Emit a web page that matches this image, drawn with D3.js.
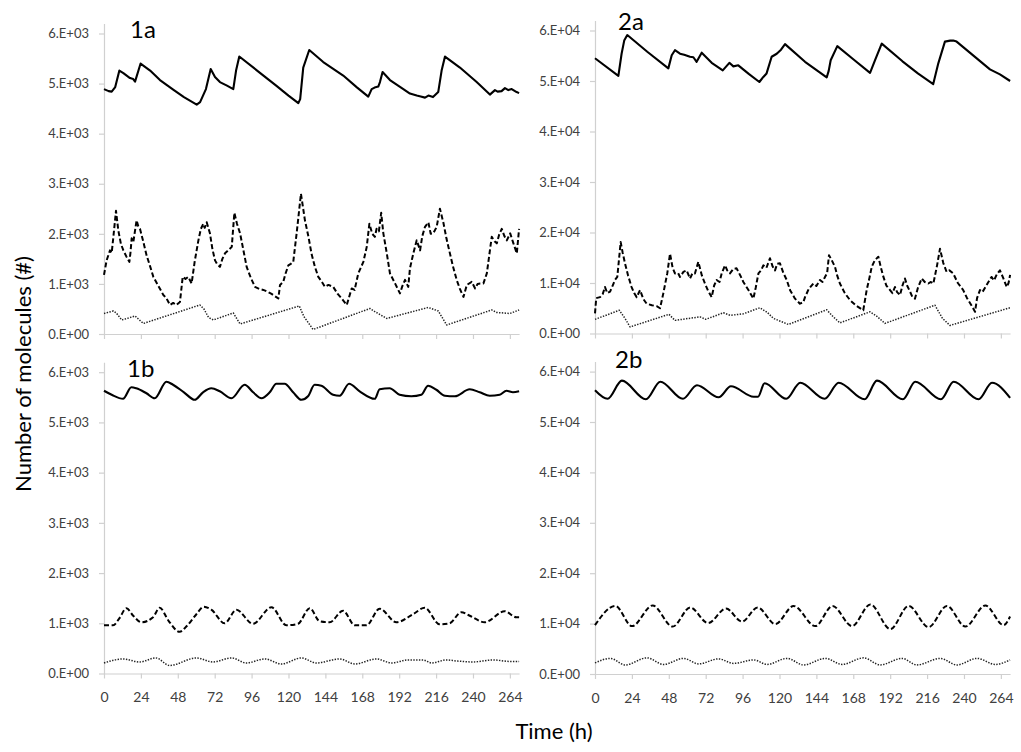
<!DOCTYPE html>
<html>
<head>
<meta charset="utf-8">
<script src="https://cdn.jsdelivr.net/npm/d3@7"></script>
<style>
  html, body { margin: 0; padding: 0; background: #fff; }
  svg { display: block; }
  text { font-family: Lato, "Open Sans", sans-serif; }
</style>
</head>
<body>
<svg id="chart" width="1021" height="752"></svg>
<script>
// ---------- DATA ----------
// Panels 1a/1b values in units of 10^3 molecules, panels 2a/2b in units of 10^4 molecules
const unit1 = 1e3, unit2 = 1e4;
const xTickValues = [0, 24, 48, 72, 96, 120, 144, 168, 192, 216, 240, 264];
const yTickValues = [0, 1, 2, 3, 4, 5, 6];
const yTickLabels1 = ["0.E+00", "1.E+03", "2.E+03", "3.E+03", "4.E+03", "5.E+03", "6.E+03"];
const yTickLabels2 = ["0.E+00", "1.E+04", "2.E+04", "3.E+04", "4.E+04", "5.E+04", "6.E+04"];
const panelNames = ["1a", "2a", "1b", "2b"];

// ---- 1a ----
const t1aSolid = [0,3,5,7.3,10,12.6,16.9,19,20.2,23.8,30,36.4,45,52,60.3,62.5,66.3,69.4,72.2,75.4,80,84.1,85.9,88,100,112,120,126.4,127.6,129.6,133.5,142.6,155.6,164.3,171.9,174.1,176,178.4,179.5,181.2,186,194.7,199,203.4,206,208.8,211,214,217.4,219.6,221.8,231.5,242.4,251,254.3,256,258.6,260.8,263,265.2,268.4,270];
const v1aSolid = [4.89,4.85,4.84,4.93,5.26,5.21,5.11,5.09,5.04,5.40,5.26,5.07,4.88,4.73,4.58,4.63,4.89,5.29,5.13,5.03,4.96,4.89,5.26,5.54,5.25,4.96,4.76,4.61,4.69,5.32,5.67,5.43,5.16,4.93,4.74,4.89,4.92,4.94,5.03,5.23,5.07,4.89,4.80,4.76,4.74,4.72,4.76,4.73,4.83,5.26,5.54,5.32,5.03,4.78,4.87,4.84,4.85,4.91,4.87,4.89,4.83,4.81];
const t1aDash = [0,1.7,3.9,5,6.1,7.8,9.3,11,12.6,14.5,16.5,17.2,18,19.1,21.2,22.3,23.4,25.5,27.7,30,32.1,35,38.6,40.5,42.9,45,47,49.4,51.2,53,54.8,57,59,61.4,63,64.6,65.5,66.8,68.9,70.5,72.2,73.5,75.4,77,78.7,80.5,83.1,84.8,86.5,88.5,90.5,92.8,95.5,98.2,101,103.6,106,109,113.4,114.5,116.6,118,119.9,121.5,123.1,125.3,128.1,130.7,133,135,137.2,139.4,141.5,143.7,146,149.1,152,154.6,157.9,161.1,163,165.4,168.7,170.9,172.6,174.5,176.2,177.3,178.8,180.3,181.7,184,186,189.3,192.5,194,195.8,197.9,199,201.2,203.4,205.6,207,208.8,211,212.5,214.2,216.4,218.5,220.7,222.8,225,227,229.4,231.5,233.8,236,239.2,241.4,243,244.7,246.8,249,252.2,254,255.5,257,258.7,260.5,262,264.2,266.3,268.5,270];
const v1aDash = [1.18,1.47,1.67,1.62,1.94,2.46,2.07,1.80,1.67,1.55,1.44,1.62,1.91,1.84,2.27,2.15,2.10,1.85,1.57,1.35,1.14,0.98,0.78,0.72,0.58,0.62,0.58,0.64,1.14,1.10,1.14,1.01,1.45,1.87,2.10,2.20,2.12,2.23,2.01,1.70,1.47,1.40,1.34,1.50,1.61,1.66,1.74,2.42,2.20,2.01,1.70,1.34,1.12,0.94,0.90,0.88,0.85,0.80,0.71,0.98,1.04,1.20,1.37,1.40,1.44,2.01,2.80,2.27,1.94,1.60,1.34,1.14,1.05,0.94,0.98,0.94,0.80,0.71,0.58,0.91,0.88,1.21,1.44,1.74,2.20,2.00,1.94,2.10,2.05,2.42,2.01,1.60,1.21,1.01,0.81,0.95,1.08,0.94,1.31,1.61,1.87,1.67,1.95,2.14,2.23,2.00,2.01,2.14,2.50,2.23,1.90,1.61,1.35,1.08,0.90,0.74,0.98,1.04,0.91,1.00,1.01,1.01,1.21,1.94,1.85,1.81,1.98,2.10,1.95,1.87,2.01,1.81,1.61,2.10];
const t1aDot = [0,6.1,8,11.5,15,20.2,25.6,62.4,65,68,71.1,84.1,88.5,127,130,136,173,176,183.9,210.9,217.4,222.9,252.2,255.5,264,270];
const v1aDot = [0.41,0.46,0.42,0.28,0.31,0.36,0.21,0.58,0.50,0.33,0.28,0.42,0.20,0.56,0.35,0.09,0.51,0.45,0.31,0.53,0.46,0.18,0.48,0.43,0.41,0.48];

// ---- 2a ----
const t2aSolid = [0,15.2,17.3,19,21,34,47.7,49.9,52,55.3,58,61.8,64,66.1,69.4,75.9,83.1,87.4,90,93.2,100,106.9,109.5,111.6,114.9,118.2,121,123.6,136.6,150.7,152,153.3,157.6,168,178.9,182.1,186.5,200,210,220,223.3,227.6,231,233,235.2,256.9,263.4,270];
const v2aSolid = [5.45,5.10,5.54,5.80,5.91,5.58,5.25,5.51,5.61,5.54,5.52,5.48,5.47,5.38,5.56,5.36,5.21,5.36,5.29,5.31,5.14,4.98,5.08,5.15,5.48,5.54,5.62,5.73,5.38,5.07,5.20,5.41,5.69,5.43,5.16,5.41,5.74,5.39,5.15,4.94,5.35,5.78,5.80,5.80,5.78,5.23,5.13,5.00];
const t2aDash = [0,0.8,3.3,5,6.5,8,9.8,11.5,13,14.5,16.7,18,19.5,21.5,23.8,25.5,27.1,29.3,31.5,33.6,37,40.1,42.3,44.4,47,48.8,50.5,52,54,55.3,57.5,59.6,61.8,63.5,65,67.2,69.5,71.5,73.5,75.9,77.5,79.1,81,82.4,84.6,86,87.8,90,92.1,94.5,96.5,100,103,104.5,106.3,108,109.5,111.5,113.8,115.5,117.1,118.5,120.3,122.5,124.7,127,130.1,133.3,135.5,136.6,139,142,144,146.3,148,149.6,151,152.2,154,156.1,157.5,159.3,162.5,165.9,170,174.5,176.7,178.5,180,182,184.3,186,187.6,189.5,191.9,193.5,195.1,196.5,198.4,200,201.6,203,204.9,206.5,208.1,210,212.5,214.5,216.8,218.5,220.1,222.5,224.4,226.5,228.7,230.5,233,236,239.5,242,245,247.2,248.5,250.4,252,254,255.5,257.9,259.5,261.5,263.4,265.5,267.8,269,270];
const v2aDash = [0.40,0.70,0.72,0.78,0.92,0.80,0.83,0.95,1.06,1.12,1.81,1.60,1.39,1.15,0.92,0.80,0.72,0.86,0.68,0.59,0.56,0.54,0.50,0.79,1.19,1.58,1.30,1.19,1.20,1.12,1.22,1.25,1.09,1.20,1.19,1.42,1.15,0.99,0.85,0.72,0.95,1.06,1.02,1.19,1.35,1.25,1.19,1.28,1.29,1.15,1.02,0.85,0.69,0.90,1.19,1.25,1.35,1.30,1.49,1.33,1.25,1.38,1.39,1.20,1.06,0.85,0.69,0.59,0.62,0.72,0.88,0.99,0.94,1.06,1.02,1.12,1.20,1.55,1.45,1.32,1.15,0.99,0.80,0.66,0.55,0.46,0.86,1.10,1.32,1.45,1.52,1.30,1.12,0.95,0.86,0.80,0.92,0.82,0.76,0.95,1.09,0.95,0.83,0.72,0.69,0.90,1.09,1.02,0.99,1.02,0.99,1.35,1.68,1.40,1.22,1.25,1.19,1.00,0.86,0.70,0.55,0.43,0.70,0.86,0.82,0.92,1.00,1.12,1.05,1.18,1.25,1.10,0.92,1.00,1.16];
const t2aDot = [0,15.8,19.5,22.8,48.1,52,68.3,72,83.5,88,96.5,107.3,112,116,125.7,150.7,155,159.3,178.9,183,188.6,221.1,226,230.9,270];
const v2aDot = [0.28,0.46,0.30,0.13,0.38,0.26,0.33,0.28,0.41,0.36,0.39,0.51,0.42,0.30,0.18,0.47,0.33,0.21,0.43,0.35,0.20,0.56,0.30,0.16,0.51];

// ---- 1b ----
const t1bSolid = [0,5,12.4,17.8,21,27.6,33,40.6,44.9,52,59,64.4,69.8,75.3,82.9,91.5,97,102.4,107.8,112.1,117.5,123,128.4,132.7,137,141.4,149,153.3,159.4,166.3,176.1,179.3,185.8,192.3,199.9,206.4,210.8,216.2,221.7,228.2,237.9,244.4,250.9,257.4,261.8,266,270];
const v1bSolid = [5.63,5.55,5.47,5.70,5.68,5.58,5.48,5.81,5.75,5.60,5.45,5.60,5.68,5.62,5.48,5.75,5.60,5.48,5.60,5.77,5.77,5.60,5.45,5.52,5.75,5.73,5.55,5.53,5.77,5.62,5.47,5.66,5.68,5.55,5.52,5.55,5.73,5.65,5.53,5.52,5.66,5.60,5.53,5.55,5.63,5.60,5.62];
const t1bDash = [0,5.9,10,14.6,19,24.3,31.9,36.2,42,49.2,54,60.1,64.8,69.8,78.5,86.1,96.9,108.9,118.6,126.2,133.8,140.3,146.8,155.5,163.1,170.7,179.3,190.2,201,208.6,218.3,224.8,232.4,237.9,247.6,260.6,268.2,270];
const v1bDash = [0.96,0.96,1.10,1.30,1.15,1.02,1.12,1.31,1.05,0.83,0.95,1.18,1.33,1.27,1.00,1.27,0.99,1.32,0.96,0.99,1.30,1.04,1.02,1.25,0.96,0.96,1.29,1.02,1.18,1.31,0.98,1.00,1.22,1.15,1.02,1.24,1.12,1.12];
const t1bDot = [0,12.4,23.2,33.7,42.7,60.1,70.9,82.9,92.6,104.6,115.4,128.4,138.1,153.3,163.1,177.2,187,197.8,207.5,213,222.7,229.2,240,253.1,263.9,270];
const v1bDot = [0.21,0.29,0.23,0.31,0.16,0.31,0.23,0.31,0.21,0.29,0.19,0.31,0.21,0.29,0.19,0.29,0.21,0.27,0.27,0.21,0.27,0.25,0.23,0.27,0.24,0.24];

// ---- 2b ----
const t2bSolid = [0,8.2,17.5,33.1,42.5,57.2,66.3,80.4,88.4,103.2,106,110.3,124.4,133.5,149.4,158.5,175.4,183.4,200.3,208.3,225.0,233.3,249.5,258.2,270];
const v2bSolid = [5.63,5.46,5.82,5.45,5.80,5.46,5.73,5.49,5.71,5.50,5.50,5.77,5.46,5.78,5.46,5.78,5.45,5.82,5.45,5.80,5.45,5.80,5.45,5.78,5.48];
const t2bDash = [0,13.2,24.1,37.5,50.5,62.0,73.5,85.2,95.6,105.8,117.3,129.2,143.3,154.5,167.2,179.1,192.1,204,217,228.9,240.9,253.9,265.8,270];
const v2bDash = [0.97,1.35,0.95,1.36,0.94,1.32,1.01,1.30,1.04,1.32,0.99,1.35,0.95,1.35,0.95,1.38,0.89,1.35,0.93,1.35,0.94,1.36,0.97,1.14];
const t2bDot = [0,10.0,19.7,33.8,44.6,57.6,67.4,80.4,90.1,103.2,111.9,124.9,135.7,149.8,160.7,174.7,185.6,199.7,209.4,224.6,235.4,248.5,260.4,270];
const v2bDot = [0.22,0.31,0.18,0.32,0.19,0.31,0.20,0.30,0.21,0.28,0.19,0.31,0.18,0.31,0.19,0.32,0.18,0.31,0.18,0.31,0.18,0.31,0.19,0.28];

// ---------- LAYOUT ----------
const svg = d3.select("#chart");
const xMax = 270, yMaxUnits = 6.2;

const panels = [
  { name: panelNames[0], unit: unit1, labels: yTickLabels1, x0: 104, x1: 519.1, yBottom: 334, yTop6: 33.5, showX: false, smooth: false,
    lbl: [130, 38],
    series: [[t1aSolid, v1aSolid], [t1aDash, v1aDash], [t1aDot, v1aDot]] },
  { name: panelNames[1], unit: unit2, labels: yTickLabels2, x0: 595, x1: 1010.1, yBottom: 333.5, yTop6: 30.5, showX: false, smooth: false,
    lbl: [618, 30],
    series: [[t2aSolid, v2aSolid], [t2aDash, v2aDash], [t2aDot, v2aDot]] },
  { name: panelNames[2], unit: unit1, labels: yTickLabels1, x0: 104, x1: 519.1, yBottom: 673.5, yTop6: 372.2, showX: true, smooth: true,
    lbl: [127, 377],
    series: [[t1bSolid, v1bSolid], [t1bDash, v1bDash], [t1bDot, v1bDot]] },
  { name: panelNames[3], unit: unit2, labels: yTickLabels2, x0: 595, x1: 1010.1, yBottom: 674, yTop6: 371.6, showX: true, smooth: true,
    lbl: [615, 368],
    series: [[t2bSolid, v2bSolid], [t2bDash, v2bDash], [t2bDot, v2bDot]] }
];

const styles = [
  { width: 2.1, dash: null, color: "#000" },
  { width: 2.0, dash: "5,2.6", color: "#000" },
  { width: 1.5, dash: "1.4,1.4", color: "#222" }
];

const axisColor = "#d0d0d0";
const textColor = "#404040";

panels.forEach(p => {
  const x = d3.scaleLinear().domain([0, xMax]).range([p.x0, p.x1]);
  const pxPerUnit = (p.yBottom - p.yTop6) / 6;
  const y = d3.scaleLinear().domain([0, yMaxUnits * p.unit])
    .range([p.yBottom, p.yBottom - yMaxUnits * pxPerUnit]);

  const g = svg.append("g");

  // y axis
  const yAxis = d3.axisLeft(y)
    .tickValues(yTickValues.map(v => v * p.unit))
    .tickFormat((d, i) => p.labels[i])
    .tickSize(5).tickSizeOuter(0).tickPadding(10);
  const ya = g.append("g").attr("transform", `translate(${p.x0},0)`).call(yAxis);
  ya.selectAll("path, line").attr("stroke", axisColor).attr("stroke-width", 1.2);
  ya.selectAll("text").attr("fill", textColor).style("font-size", "13px");

  // x axis
  const xAxis = d3.axisBottom(x)
    .tickValues(xTickValues)
    .tickFormat(p.showX ? d3.format("d") : () => "")
    .tickSize(5).tickSizeOuter(0).tickPadding(14);
  const xa = g.append("g").attr("transform", `translate(0,${p.yBottom})`).call(xAxis);
  xa.selectAll("path, line").attr("stroke", axisColor).attr("stroke-width", 1.2);
  xa.selectAll("text").attr("fill", textColor).style("font-size", "14px");

  // series
  p.series.forEach((s, i) => {
    const pts = s[0].map((t, k) => [t, s[1][k] * p.unit]);
    const line = d3.line()
      .x(d => x(d[0])).y(d => y(d[1]))
      .curve(p.smooth ? d3.curveMonotoneX : d3.curveLinear);
    const st = styles[i];
    g.append("path")
      .datum(pts)
      .attr("d", line)
      .attr("fill", "none")
      .attr("stroke", st.color)
      .attr("stroke-width", st.width)
      .attr("stroke-linejoin", "round")
      .attr("stroke-dasharray", st.dash);
  });

  // panel label
  g.append("text")
    .attr("x", p.lbl[0]).attr("y", p.lbl[1])
    .attr("fill", "#000")
    .style("font-size", "24px")
    .text(p.name);
});

// axis titles
svg.append("text")
  .attr("transform", "translate(31,374) rotate(-90)")
  .attr("text-anchor", "middle")
  .attr("fill", "#000")
  .style("font-size", "22px")
  .text("Number of molecules (#)");

svg.append("text")
  .attr("x", 554).attr("y", 739)
  .attr("text-anchor", "middle")
  .attr("fill", "#000")
  .style("font-size", "22px")
  .text("Time (h)");
</script>
</body>
</html>
